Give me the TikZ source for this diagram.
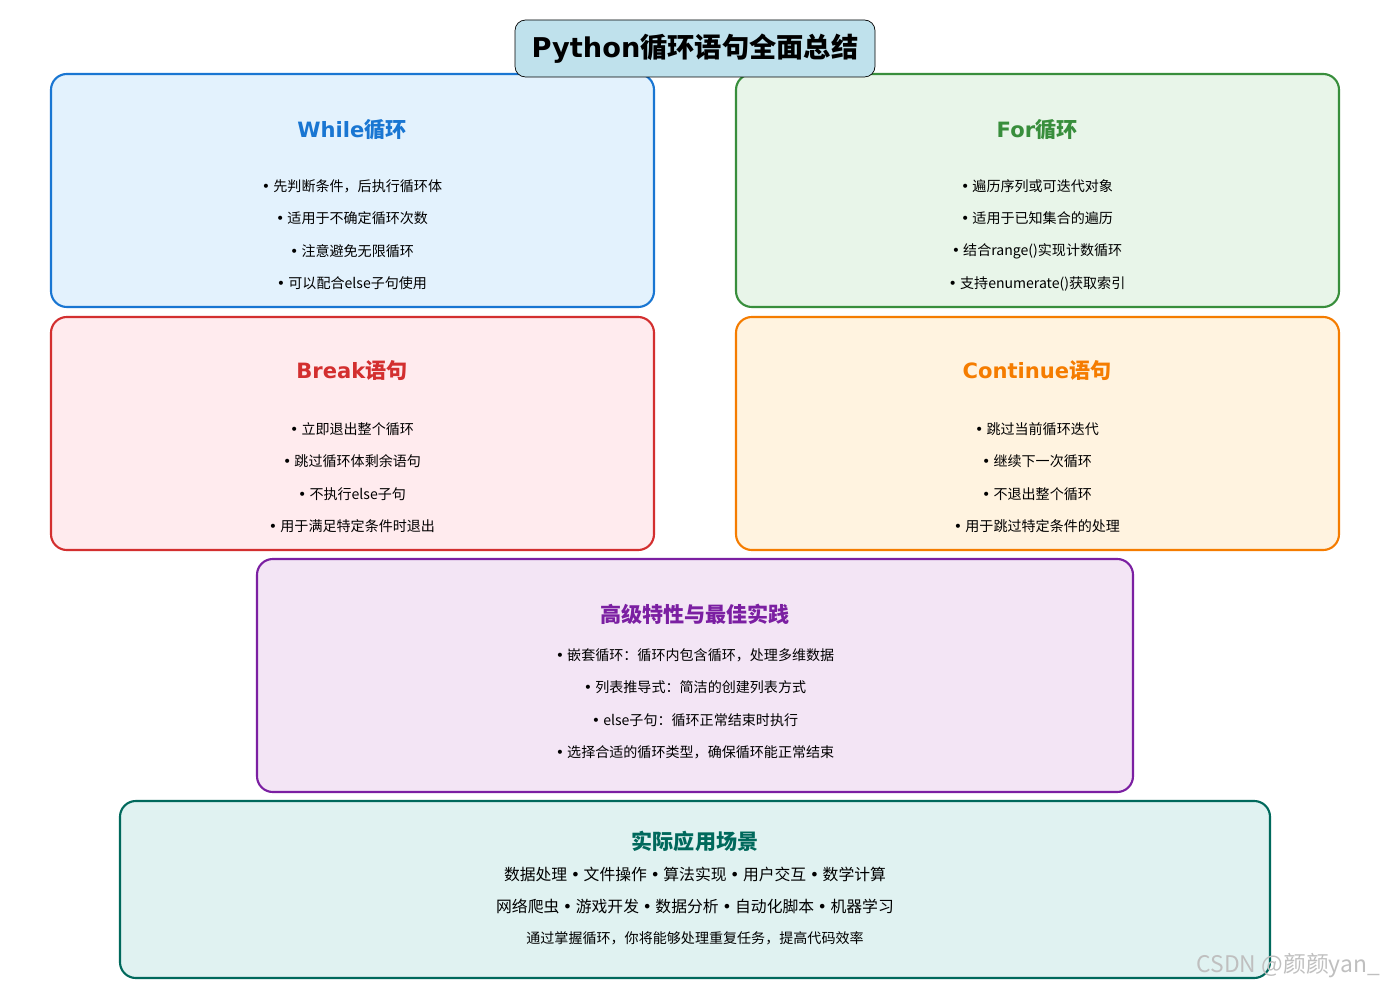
\documentclass[tikz,border=0pt]{standalone}
\usepackage{fontspec}
\setmainfont{Noto Sans CJK SC}
\newfontfamily\dv{DejaVu Sans}
\newcommand\bul{{\dv •}}
\definecolor{whileC}{HTML}{1976D2}\definecolor{whileF}{HTML}{E3F2FD}
\definecolor{forC}{HTML}{388E3C}\definecolor{forF}{HTML}{E8F5E9}
\definecolor{breakC}{HTML}{D32F2F}\definecolor{breakF}{HTML}{FFEBEE}
\definecolor{contC}{HTML}{F57C00}\definecolor{contF}{HTML}{FFF3E0}
\definecolor{advC}{HTML}{7B1FA2}\definecolor{advF}{HTML}{F3E5F5}
\definecolor{appC}{HTML}{00695C}\definecolor{appF}{HTML}{E0F2F1}
\definecolor{headF}{HTML}{BFE1EC}
\tikzset{
  panel/.style={draw=#1C,fill=#1F,line width=1.2pt,rounded corners=9pt},
  head/.style={font=\fontsize{12}{14}\selectfont\bfseries,text=#1C},
  item/.style={font=\fontsize{8}{10}\selectfont},
}
\begin{document}
\begin{tikzpicture}[x=0.02cm,y=-0.02cm,line join=round]
  \useasboundingbox (0,0) rectangle (1389,989);
  \fill[white] (0,0) rectangle (1389,989);
  % panels
  \draw[panel=while] (51,74) rectangle (654,307);
  \draw[panel=for] (736,74) rectangle (1339,307);
  \draw[panel=break] (51,317) rectangle (654,550);
  \draw[panel=cont] (736,317) rectangle (1339,550);
  \draw[panel=adv] (257,559) rectangle (1133,792);
  \draw[panel=app] (120,801) rectangle (1270,978);
  % title
  \node[draw=black,fill=headF,rounded corners=6pt,minimum width=360*0.02cm,minimum height=57*0.02cm,
    font=\fontsize{15.5}{18}\selectfont\bfseries] (title) at (695,48.5) {{\dv Python}循环语句全面总结};
  % while
  \node[head=while] (whileT) at (352,130) {{\dv While}循环};
  \foreach \t [count=\i from 0] in {先判断条件，后执行循环体,适用于不确定循环次数,注意避免无限循环,可以配合else子句使用}
    \node[item] (while\i) at (352,186+32.5*\i) {\bul\ \t};
  % for
  \node[head=for] (forT) at (1037,130) {{\dv For}循环};
  \foreach \t [count=\i from 0] in {遍历序列或可迭代对象,适用于已知集合的遍历,结合range()实现计数循环,支持enumerate()获取索引}
    \node[item] (for\i) at (1037,186+32.5*\i) {\bul\ \t};
  % break
  \node[head=break] (breakT) at (352,371) {{\dv Break}语句};
  \foreach \t [count=\i from 0] in {立即退出整个循环,跳过循环体剩余语句,不执行else子句,用于满足特定条件时退出}
    \node[item] (break\i) at (352,429+32.5*\i) {\bul\ \t};
  % continue
  \node[head=cont] (contT) at (1037,371) {{\dv Continue}语句};
  \foreach \t [count=\i from 0] in {跳过当前循环迭代,继续下一次循环,不退出整个循环,用于跳过特定条件的处理}
    \node[item] (cont\i) at (1037,429+32.5*\i) {\bul\ \t};
  % advanced
  \node[head=adv] (advT) at (695,614) {高级特性与最佳实践};
  \foreach \t [count=\i from 0] in {嵌套循环：循环内包含循环，处理多维数据,列表推导式：简洁的创建列表方式,else子句：循环正常结束时执行,选择合适的循环类型，确保循环能正常结束}
    \node[item] (adv\i) at (695,655+32.5*\i) {\bul\ \t};
  % applications
  \node[head=app] (appT) at (695,841) {实际应用场景};
  \node[item,font=\fontsize{9}{11}\selectfont] (app0) at (695,874) {数据处理 \bul\ 文件操作 \bul\ 算法实现 \bul\ 用户交互 \bul\ 数学计算};
  \node[item,font=\fontsize{9}{11}\selectfont] (app1) at (695,906) {网络爬虫 \bul\ 游戏开发 \bul\ 数据分析 \bul\ 自动化脚本 \bul\ 机器学习};
  \node[item] (app2) at (695,938) {通过掌握循环，你将能够处理重复任务，提高代码效率};
  \node[text=black!25,font=\fontsize{13}{15}\selectfont,anchor=east] (mark) at (1386,966) {CSDN @颜颜yan\_};
\end{tikzpicture}
\end{document}
